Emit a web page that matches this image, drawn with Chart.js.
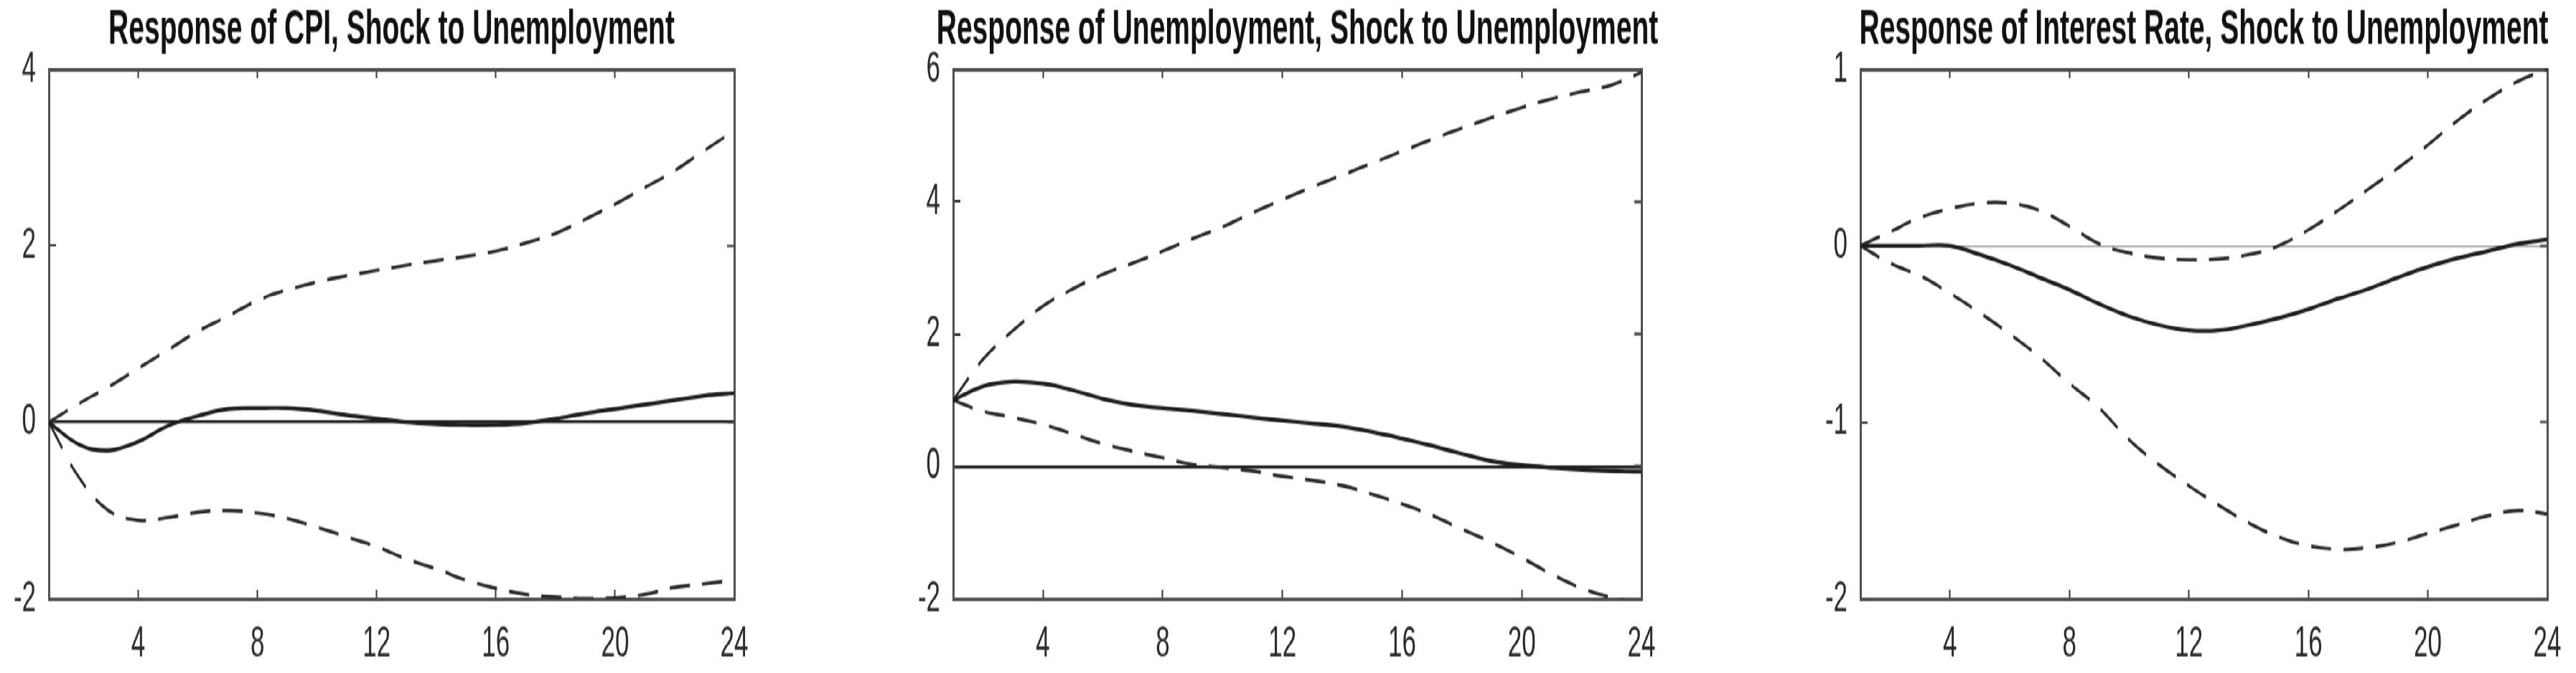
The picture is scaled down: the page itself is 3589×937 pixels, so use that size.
<!DOCTYPE html>
<html>
<head>
<meta charset="utf-8">
<script src="https://cdn.jsdelivr.net/npm/chart.js@4.4.1/dist/chart.umd.min.js"></script>
<style>
  html, body { margin: 0; padding: 0; background: #fff; overflow: hidden; }
  body { width: 3589px; height: 937px; position: relative; }
  /* the reference is stretched vertically, so the whole stage is too */
  #stage { position: absolute; left: 0; top: 0; width: 3589px; height: 535px;
           transform: scaleY(1.7514); transform-origin: 0 0; }
  .panel { position: absolute; top: 0; height: 535px; }
</style>
</head>
<body>
<div id="stage">
  <div class="panel" style="left:4px;width:1083px"><canvas id="c1"></canvas></div>
  <div class="panel" style="left:1264px;width:1087px"><canvas id="c2"></canvas></div>
  <div class="panel" style="left:2528px;width:1085px"><canvas id="c3"></canvas></div>
</div>
<script>
// horizon (periods after the shock)
const horizons = [1,2,3,4,5,6,7,8,9,10,11,12,13,14,15,16,17,18,19,20,21,22,23,24];
const xTickValues = [4,8,12,16,20,24];

// Response of CPI
const cpiMid   = [0,-0.25,-0.32,-0.22,-0.04,0.07,0.15,0.16,0.16,0.13,0.08,0.04,0.00,-0.02,-0.03,-0.03,-0.01,0.04,0.10,0.15,0.20,0.25,0.30,0.33];
const cpiUpper = [0,0.21,0.40,0.61,0.82,1.03,1.20,1.38,1.50,1.59,1.66,1.72,1.78,1.83,1.88,1.94,2.03,2.14,2.30,2.47,2.66,2.85,3.08,3.30];
const cpiLower = [0,-0.62,-1.00,-1.11,-1.08,-1.02,-1.00,-1.03,-1.09,-1.19,-1.30,-1.41,-1.55,-1.66,-1.79,-1.88,-1.95,-1.98,-2.00,-1.99,-1.95,-1.87,-1.83,-1.79];
const cpiTicks = [-2,0,2,4];

// Response of Unemployment
const unMid   = [1.00,1.21,1.28,1.25,1.15,1.02,0.93,0.88,0.84,0.79,0.74,0.69,0.65,0.60,0.52,0.42,0.31,0.19,0.08,0.02,-0.02,-0.05,-0.07,-0.08];
const unUpper = [1.00,1.62,2.05,2.42,2.68,2.90,3.07,3.25,3.44,3.62,3.83,4.03,4.22,4.40,4.58,4.76,4.94,5.11,5.27,5.42,5.55,5.66,5.76,5.95];
const unLower = [1.00,0.83,0.74,0.63,0.49,0.34,0.23,0.13,0.03,-0.02,-0.07,-0.15,-0.21,-0.29,-0.42,-0.57,-0.74,-0.95,-1.15,-1.38,-1.63,-1.84,-1.98,-2.08];
const unTicks = [-2,0,2,4,6];

// Response of Interest Rate
const irMid   = [0,0.00,0.00,0.00,-0.05,-0.11,-0.18,-0.25,-0.33,-0.40,-0.45,-0.48,-0.48,-0.45,-0.41,-0.36,-0.30,-0.245,-0.18,-0.12,-0.07,-0.03,0.01,0.035];
const irUpper = [0,0.08,0.16,0.21,0.24,0.24,0.20,0.11,0.01,-0.04,-0.07,-0.08,-0.075,-0.05,0.00,0.09,0.20,0.32,0.44,0.57,0.71,0.83,0.93,1.00];
const irLower = [0,-0.10,-0.17,-0.27,-0.38,-0.50,-0.63,-0.78,-0.92,-1.10,-1.24,-1.36,-1.47,-1.57,-1.65,-1.70,-1.72,-1.71,-1.68,-1.63,-1.58,-1.53,-1.50,-1.52];
const irTicks = [-2,-1,0,1];

const BOX = '#505050';
const FONT = '"Liberation Sans", Arial, sans-serif';

function bandSet(values) {
  return { data: values, borderColor: '#2b2b2b', borderWidth: 2.8, borderDash: [28, 17],
           pointRadius: 0, tension: 0.4, fill: false };
}

function axis(pos, min, max, tickVals, extra) {
  const horiz = pos === 'top' || pos === 'bottom';
  return Object.assign({
    type: 'linear', position: pos, min: min, max: max,
    afterBuildTicks: s => { s.ticks = tickVals.map(v => ({ value: v })); },
    border: { display: true, color: BOX, width: 3 },
    grid: { drawOnChartArea: false, drawTicks: true, tickLength: horiz ? -7 : -10,
            tickColor: '#333', tickWidth: 2 },
    ticks: { display: false }
  }, extra);
}

function makeChart(id, title, mid, upper, lower, yTicks, zeroColor, zeroWidth) {
  const yMin = yTicks[0], yMax = yTicks[yTicks.length - 1];
  new Chart(document.getElementById(id), {
    type: 'line',
    data: {
      labels: horizons,
      datasets: [
        { data: mid, borderColor: '#1e1e1e', borderWidth: 3.2, pointRadius: 0, tension: 0.4, fill: false },
        bandSet(upper),
        bandSet(lower)
      ]
    },
    options: {
      responsive: true,
      maintainAspectRatio: false,
      animation: false,
      events: [],
      layout: { padding: 0 },
      plugins: {
        legend: { display: false },
        tooltip: { enabled: false },
        title: { display: true, text: title, color: '#111',
                 font: { family: FONT, size: 39, weight: 'bold', lineHeight: 1 },
                 padding: { top: 5, bottom: 0 } }
      },
      scales: {
        x: axis('bottom', 1, 24, xTickValues, {
          afterFit: s => { s.height = 59; },
          ticks: { display: true, color: '#2a2a2a', padding: 22, maxRotation: 0,
                   font: { family: FONT, size: 35 } }
        }),
        x2: axis('top', 1, 24, xTickValues, { afterFit: s => { s.height = 11; } }),
        y: axis('left', yMin, yMax, yTicks, {
          afterFit: s => { s.width = 64; },
          grid: { drawOnChartArea: true, drawTicks: true, tickLength: -10, tickColor: '#333', tickWidth: 2,
                  color: c => (c.tick && c.tick.value === 0) ? zeroColor : 'rgba(0,0,0,0)',
                  lineWidth: c => (c.tick && c.tick.value === 0) ? zeroWidth : 0 },
          ticks: { display: true, color: '#2a2a2a', padding: 28,
                   font: { family: FONT, size: 35 } }
        }),
        y2: axis('right', yMin, yMax, yTicks, { afterFit: s => { s.width = 64; } })
      }
    }
  });
}

makeChart('c1', 'Response of CPI, Shock to Unemployment', cpiMid, cpiUpper, cpiLower, cpiTicks, '#222', 2.4);
makeChart('c2', 'Response of Unemployment, Shock to Unemployment', unMid, unUpper, unLower, unTicks, '#222', 2.4);
makeChart('c3', 'Response of Interest Rate, Shock to Unemployment', irMid, irUpper, irLower, irTicks, '#9a9a9a', 1.4);
</script>
</body>
</html>
